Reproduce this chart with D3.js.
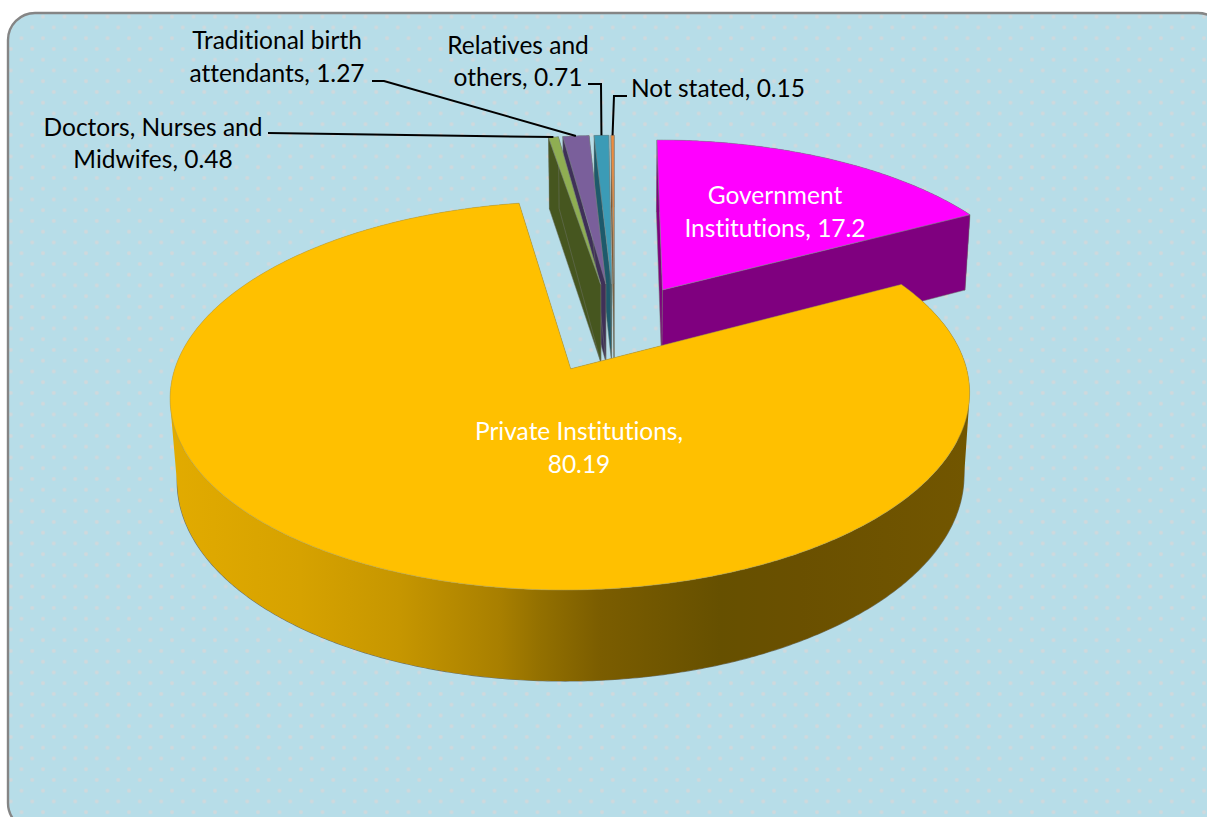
<!DOCTYPE html>
<html>
<head>
<meta charset="utf-8">
<script src="https://cdn.jsdelivr.net/npm/d3@7"></script>
<style>
  html, body { margin: 0; padding: 0; background: #fff; }
  svg { display: block; }
  text { font-family: Lato, "Open Sans", sans-serif; font-size: 24.5px; font-variant-ligatures: none; }
</style>
</head>
<body>
<div id="chart"></div>
<script>
var categories = ["Government Institutions", "Private Institutions", "Doctors, Nurses and Midwifes",
  "Traditional birth attendants", "Relatives and others", "Not stated"];
var values = [17.2, 80.19, 0.48, 1.27, 0.71, 0.15];
var topColors = ["#ff00ff", "#ffc000", "#8fae52", "#7a5f9b", "#3b9bb6", "#ee8c3e"];
var wallColors = ["#7f007f", "#7f6000", "#46561f", "#3f3058", "#1d5a6b", "#8a5020"];
var labelLines = [
  ["Government", "Institutions, 17.2"],
  ["Private Institutions,", "80.19"],
  ["Doctors, Nurses and", "Midwifes, 0.48"],
  ["Traditional birth", "attendants, 1.27"],
  ["Relatives and", "others, 0.71"],
  ["Not stated, 0.15"]
];
// side of the big slice, dark to light across the page
var sideStopX = [170, 300, 400, 500, 540, 600, 720, 800, 970];
var sideStopColor = ["#e2ab00", "#d6a200", "#c69600", "#a87f00", "#937000", "#7b5d00", "#665000", "#6a5000", "#725600"];

var svgWidth = 1207, svgHeight = 817;

// perspective of the pie plane, fitted by eye to the reference
var view = { cx: 614.5, cy: 327.3, rx: 384, ry: 179.4, depth: 81.6, p: 0.134, q: 0.0156 };
var explode = 0.25;

// where each label sits and where its leader starts
var labelPos = [
  { x: 775, y: 204, fill: "#fff" },
  { x: 579, y: 440, fill: "#fff" },
  { x: 153, y: 135.5, fill: "#000", leader: [[268, 133]] },
  { x: 277, y: 49, fill: "#000", leader: [[372, 81], [384, 81]] },
  { x: 518, y: 53.5, fill: "#000", leader: [[588, 84], [601, 84]] },
  { x: 718, y: 97, fill: "#000", leader: [[627, 96], [614, 96]] }
];

function project(x, y, z) {
  var w = 1 + view.p * y + view.q * z;
  return [view.cx + view.rx * x / w, view.cy + (view.depth * z - view.ry * y) / w];
}

var svg = d3.select("#chart").append("svg")
  .attr("width", svgWidth)
  .attr("height", svgHeight);

var defs = svg.append("defs");
var dots = defs.append("pattern")
  .attr("id", "dots")
  .attr("patternUnits", "userSpaceOnUse")
  .attr("x", 43).attr("y", 16.7)
  .attr("width", 21.5).attr("height", 21.5);
dots.append("rect").attr("width", 21.5).attr("height", 21.5).attr("fill", "#b7dde8");
[[0, 0], [21.5, 0], [0, 21.5], [21.5, 21.5], [10.75, 10.75]].forEach(function(d) {
  dots.append("circle").attr("cx", d[0]).attr("cy", d[1]).attr("r", 2).attr("fill", "#cfd9dd");
});

var sideGrad = defs.append("linearGradient")
  .attr("id", "side")
  .attr("gradientUnits", "userSpaceOnUse")
  .attr("x1", sideStopX[0]).attr("x2", sideStopX[sideStopX.length - 1])
  .attr("y1", 0).attr("y2", 0);
var stopScale = d3.scaleLinear().domain(d3.extent(sideStopX)).range([0, 1]);
sideStopX.forEach(function(x, i) {
  sideGrad.append("stop").attr("offset", stopScale(x)).attr("stop-color", sideStopColor[i]);
});

// panel runs past the right and bottom of the page
svg.append("rect")
  .attr("x", 8).attr("y", 13)
  .attr("width", 1217).attr("height", 817)
  .attr("rx", 27).attr("ry", 27)
  .attr("fill", "url(#dots)")
  .attr("stroke", "#858585")
  .attr("stroke-width", 2.4);

var pie = d3.pie().sort(null).value(function(d) { return d; });
var arcs = pie(values);
var line = d3.line();

arcs.forEach(function(d) {
  var mid = (d.startAngle + d.endAngle) / 2;
  d.ox = explode * Math.sin(mid);
  d.oy = explode * Math.cos(mid);
  d.mid = mid;
});

function rimPoint(d, a, z) {
  return project(d.ox + Math.sin(a), d.oy + Math.cos(a), z);
}
function rim(d, z) {
  var n = Math.max(4, Math.ceil((d.endAngle - d.startAngle) / 0.01));
  return d3.range(n + 1).map(function(i) {
    return rimPoint(d, d.startAngle + (d.endAngle - d.startAngle) * i / n, z);
  });
}
function wall(d, a) {
  return [project(d.ox, d.oy, 0), rimPoint(d, a, 0), rimPoint(d, a, 1), project(d.ox, d.oy, 1)];
}
// outer side as small quads, all wound the same way so that they fill as one shape
function sideQuads(d) {
  var a = rim(d, 0), b = rim(d, 1), out = "";
  for (var i = 0; i < a.length - 1; i++) {
    var q = [a[i], a[i + 1], b[i + 1], b[i]];
    if (d3.polygonArea(q) < 0) q.reverse();
    out += line(q) + "Z";
  }
  return out;
}

// government first, thin slices right to left, then the big one
var order = [0, 5, 4, 3, 2, 1];
var sliceG = svg.selectAll("g.slice")
  .data(order.map(function(i) { return arcs[i]; }))
  .enter().append("g").attr("class", "slice");

sliceG.each(function(d) {
  var g = d3.select(this);
  var color = wallColors[d.index];
  // outline first, the side fill covers its inner half
  g.append("path")
    .attr("d", line(rim(d, 1)))
    .attr("fill", "none")
    .attr("stroke", "#6f7468").attr("stroke-width", 1.2);
  g.append("path")
    .attr("d", sideQuads(d))
    .attr("fill", d.index == 1 ? "url(#side)" : color);
  [d.startAngle, d.endAngle].forEach(function(a) {
    g.append("path")
      .attr("d", line(wall(d, a)) + "Z")
      .attr("fill", color)
      .attr("stroke", d.index == 1 ? "none" : "#6f7468").attr("stroke-width", 0.5);
  });
  g.append("path")
    .attr("d", line([project(d.ox, d.oy, 0)].concat(rim(d, 0))) + "Z")
    .attr("fill", topColors[d.index])
    .attr("stroke", d.index == 1 ? "#a89a55" : "#7d8a8a")
    .attr("stroke-width", 0.5);
});

// leaders run from the label to the middle of the slice rim
svg.selectAll("path.leader")
  .data(arcs.filter(function(d) { return labelPos[d.index].leader; }))
  .enter().append("path")
  .attr("class", "leader")
  .attr("fill", "none")
  .attr("stroke", "#000")
  .attr("stroke-width", 2)
  .attr("d", function(d) {
    return line(labelPos[d.index].leader.concat([rimPoint(d, d.mid, 0)]));
  });

svg.selectAll("text.label")
  .data(arcs)
  .enter().append("text")
  .attr("class", "label")
  .attr("text-anchor", "middle")
  .attr("fill", function(d) { return labelPos[d.index].fill; })
  .each(function(d) {
    var t = d3.select(this);
    labelLines[d.index].forEach(function(s, i) {
      t.append("tspan")
        .attr("x", labelPos[d.index].x)
        .attr("y", labelPos[d.index].y + i * 32.5)
        .text(s);
    });
  });
</script>
</body>
</html>
